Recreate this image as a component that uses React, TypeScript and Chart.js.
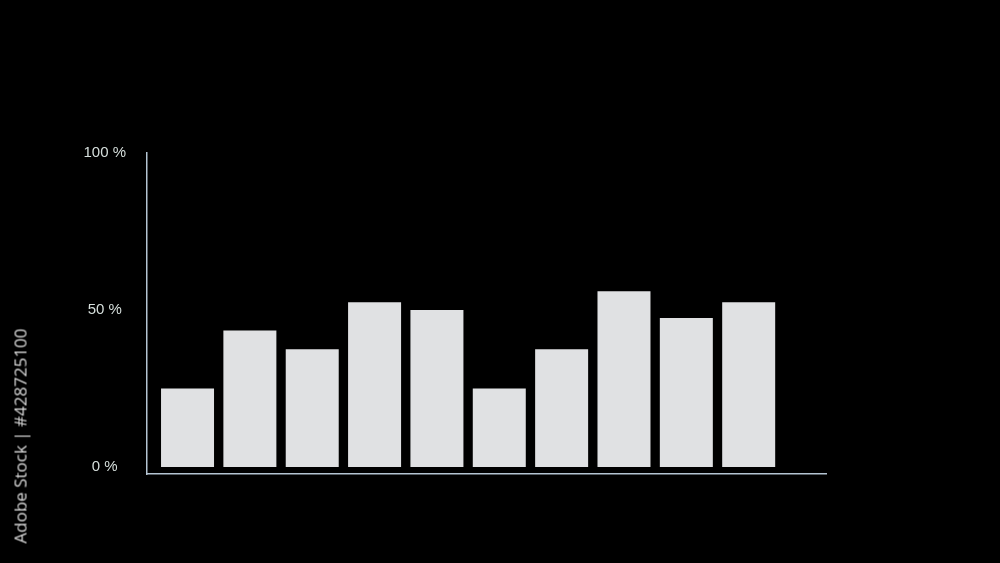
import React, { useRef, useEffect } from 'react';
import { Chart, registerables } from 'chart.js';

Chart.register(...registerables);

// 数据
const categories = ['1', '2', '3', '4', '5', '6', '7', '8', '9', '10'];
const values = [25, 43.5, 37.5, 52.5, 50, 25, 37.5, 56, 47.5, 52.5];
const tickValues = [0, 50, 100];
const tickLabels = ['0 %', '50 %', '100 %'];

const App: React.FC = () => {
  const chartRef = useRef<HTMLCanvasElement>(null);
  const chartInstance = useRef<Chart | null>(null);

  useEffect(() => {
    if (!chartRef.current) return;
    if (chartInstance.current) chartInstance.current.destroy();

    chartInstance.current = new Chart(chartRef.current, {
      type: 'bar',
      data: {
        datasets: [
          {
            label: 'value',
            data: values.map((v, i) => ({ x: i, y: v, c: categories[i] })) as any,
            backgroundColor: '#e0e1e3',
            borderWidth: 0,
            categoryPercentage: 1,
            barPercentage: 0.85,
          },
        ],
      },
      options: {
        animation: false,
        responsive: true,
        maintainAspectRatio: false,
        layout: { padding: { top: 153, right: 174, bottom: 89, left: 0 } },
        plugins: { legend: { display: false }, tooltip: { enabled: false } },
        scales: {
          x: {
            type: 'linear',
            min: -0.65,
            max: 10.24,
            offset: false,
            grid: { display: false, drawTicks: false, offset: false },
            ticks: { display: false },
            border: { display: true, color: '#b4c4d2', width: 1.5 },
            afterFit: (scale: any) => {
              scale.height = 0;
            },
          },
          y: {
            min: -2.2,
            max: 100,
            grid: { display: false, drawTicks: false },
            border: { display: true, color: '#b4c4d2', width: 1.5 },
            afterBuildTicks: (scale: any) => {
              scale.ticks = tickValues.map((v) => ({ value: v }));
            },
            afterFit: (scale: any) => {
              scale.width = 147;
            },
            ticks: {
              crossAlign: 'center',
              padding: 21,
              color: '#d6dfdc',
              font: { family: '"Liberation Sans", Arial, sans-serif', size: 15 },
              callback: (v: any) => tickLabels[tickValues.indexOf(Number(v))] ?? '',
            },
          },
        },
      },
    });

    return () => {
      if (chartInstance.current) {
        chartInstance.current.destroy();
        chartInstance.current = null;
      }
    };
  }, []);

  return (
    <div
      style={{
        position: 'fixed',
        left: 0,
        top: 0,
        width: 1000,
        height: 563,
        background: '#000',
        overflow: 'hidden',
      }}
    >
      <div style={{ position: 'absolute', left: 0, top: 0, width: 1000, height: 563 }}>
        <canvas ref={chartRef}></canvas>
      </div>
      {/* 左侧竖排水印文字 */}
      <div
        style={{
          position: 'absolute',
          left: 20,
          top: 436,
          transform: 'translate(-50%, -50%) rotate(-90deg)',
          whiteSpace: 'nowrap',
          color: '#d8d8d8',
          fontFamily: '"Open Sans", sans-serif',
          fontSize: 17,
        }}
      >
        Adobe Stock | #428725100
      </div>
    </div>
  );
};

export default App;
